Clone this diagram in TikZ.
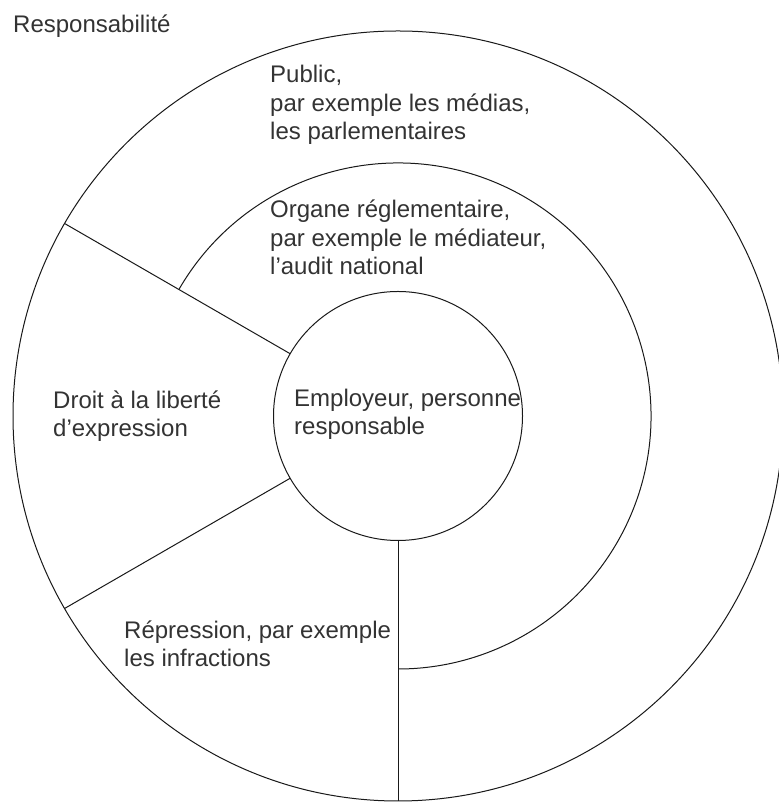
\documentclass[tikz,border=0pt]{standalone}
\usepackage{fontspec}
\setmainfont{Liberation Sans}
\usetikzlibrary{calc}
\begin{document}
\begin{tikzpicture}[x=1pt,y=1pt,
  ring/.style={draw=black!90, line width=1pt},
  spoke/.style={draw=black!90, line width=1pt},
  label/.style={inner sep=0pt, anchor=base west, align=left, text=black!80,
    font=\fontsize{24}{28.5}\selectfont}]
\useasboundingbox (0,0) rectangle (778,802);
\fill[white] (0,0) rectangle (778,802);

% common centre and the three radii
\coordinate (C) at (398,386);
\def\rin{124.5}
\def\rmid{253}
\def\rout{385}

% outer and inner circles
\draw[ring] (C) circle[radius=\rout];
\draw[ring] (C) circle[radius=\rin];

% middle ring: only the arc from the upper-left spoke round to the bottom spoke
\draw[ring] ($(C)+(150:\rmid)$) arc[start angle=150, end angle=-90, radius=\rmid];

% spoke end points
\coordinate (a1) at ($(C)+(150:\rin)$);
\coordinate (a2) at ($(C)+(150:\rout)$);
\coordinate (b1) at ($(C)+(210:\rin)$);
\coordinate (b2) at ($(C)+(210:\rout)$);
\coordinate (c1) at ($(C)+(270:\rin)$);
\coordinate (c2) at ($(C)+(270:\rout)$);
\draw[spoke] (a1) -- (a2);
\draw[spoke] (b1) -- (b2);
\draw[spoke] (c1) -- (c2);

% texts (anchored at the baseline of their last line)
\node[label] (title) at (13,769) {Responsabilité};
\node[label] (public) at (270,662) {Public,\\par exemple les médias,\\les parlementaires};
\node[label] (organe) at (270,527) {Organe réglementaire,\\par exemple le médiateur,\\l’audit national};
\node[label] (droit) at (53,365) {Droit à la liberté\\d’expression};
\node[label] (employeur) at (294,367) {Employeur, personne\\responsable};
\node[label] (repression) at (124,135) {Répression, par exemple\\les infractions};
\end{tikzpicture}
\end{document}
